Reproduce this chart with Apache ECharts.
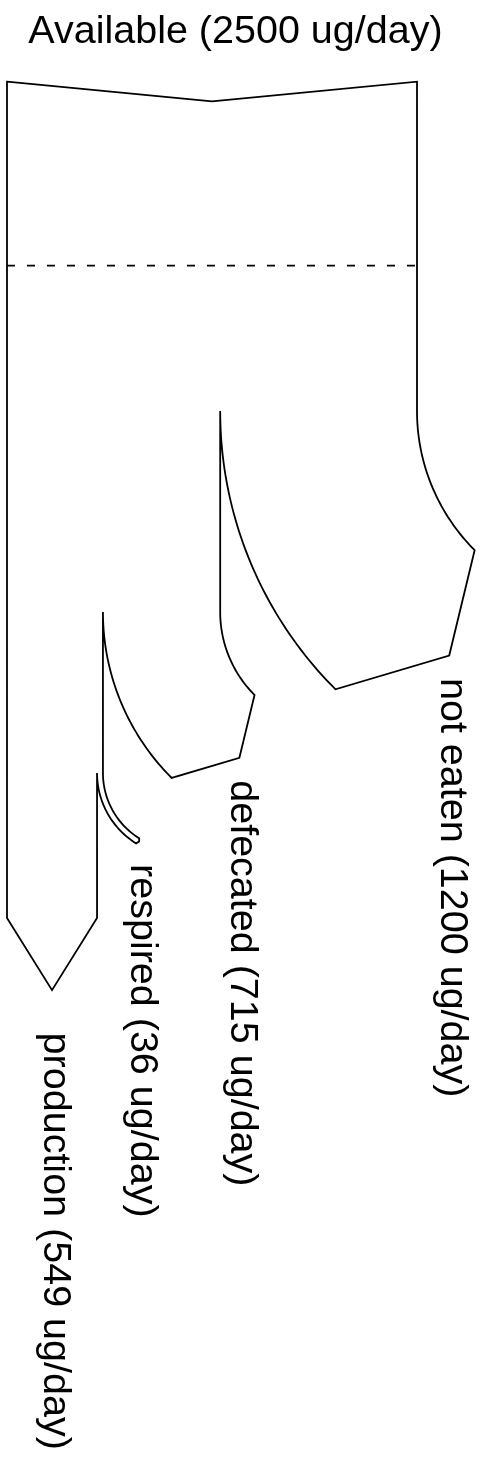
<!DOCTYPE html>
<html><head><meta charset="utf-8">
<script src="https://cdn.jsdelivr.net/npm/echarts@6/dist/echarts.min.js"></script>
<style>html,body{margin:0;padding:0;background:#fff}#c{width:480px;height:1462px}</style>
</head><body><div id="c"></div>
<script>
// ---- data ----
const categories = ['Available', 'not eaten', 'defecated', 'respired', 'production'];
const flows = [2500, -1200, -715, -36, -549];
const unitLabel = 'ug/day';

// ---- layout (diagram units = flow units on both axes) ----
const inputNotch = 120;
const dashY = 1122;
const branchSplit = [2008, 3234, 4215];   // where side outputs leave (right to left)
const branchRadius = [1200, 715, 470];    // inner turn radius
const branchAngle = [45, 45, 58];         // turn angle, degrees
const tipSkew = 6;                        // degrees
const sideHeadRatio = Math.tan(Math.PI / 6);
const straightShoulder = 5100;
const straightHeadRatio = 1.6;
const titlePos = [1393, -304];
const sideLabelOffset = [15, 137];
const straightLabelOffset = [18, 259];
const FONT = '"Liberation Sans", Arial, Helvetica, sans-serif';
const FS = 39.5;

function lbl(name, v) { return name + ' (' + v + ' ' + unitLabel + ')'; }

function renderItem(params, api) {
  const C = p => api.coord(p);
  const total = flows[0];
  const pts = [[0, 0], [total / 2, inputNotch], [total, 0]];
  let xR = total;
  const labels = [];
  for (let i = 1; i < categories.length - 1; i++) {
    const w = -flows[i];
    const j = i - 1;
    const th = branchAngle[j] * Math.PI / 180, r = branchRadius[j], cy = branchSplit[j], cx = xR + r;
    pts.push([xR, cy]);
    const N = 48;
    for (let k = 1; k <= N; k++) { const t = th * k / N; pts.push([cx - r * Math.cos(t), cy + r * Math.sin(t)]); }
    const I = pts[pts.length - 1];
    const R2 = r + w;
    const O = [cx - R2 * Math.cos(th), cy + R2 * Math.sin(th)];
    const M = [(I[0] + O[0]) / 2, (I[1] + O[1]) / 2];
    const ta = th + tipSkew * Math.PI / 180;
    const hl = w / 2 * sideHeadRatio;
    const T = [M[0] + Math.sin(ta) * hl, M[1] + Math.cos(ta) * hl];
    pts.push(T);
    for (let k = N; k >= 0; k--) { const t = th * k / N; pts.push([cx - R2 * Math.cos(t), cy + R2 * Math.sin(t)]); }
    labels.push({ text: lbl(categories[i], w), at: [T[0] + sideLabelOffset[0], T[1] + sideLabelOffset[1]] });
    xR -= w;
  }
  const wP = -flows[categories.length - 1];
  pts.push([xR, straightShoulder]);
  const Tp = [xR - wP / 2, straightShoulder + wP / 2 * straightHeadRatio];
  pts.push(Tp);
  pts.push([xR - wP, straightShoulder]);
  labels.push({ text: lbl(categories[categories.length - 1], wP), at: [Tp[0] + straightLabelOffset[0], Tp[1] + straightLabelOffset[1]] });

  const children = [];
  children.push({
    type: 'polygon',
    shape: { points: pts.map(C) },
    style: { fill: '#fff', stroke: '#000', lineWidth: 1.8, lineJoin: 'miter' }
  });
  const d1 = C([0, dashY]), d2 = C([total, dashY]);
  children.push({
    type: 'line',
    shape: { x1: d1[0], y1: d1[1], x2: d2[0], y2: d2[1] },
    style: { stroke: '#000', lineWidth: 1.8, lineDash: [8, 12] }
  });
  const tp = C(titlePos);
  children.push({
    type: 'text', x: tp[0], y: tp[1],
    style: { text: lbl(categories[0], total), fill: '#000', fontSize: FS, fontFamily: FONT, align: 'center', verticalAlign: 'middle' }
  });
  labels.forEach(l => {
    const p = C(l.at);
    children.push({
      type: 'text', x: p[0], y: p[1], rotation: -Math.PI / 2,
      style: { text: l.text, fill: '#000', fontSize: FS, fontFamily: FONT, align: 'left', verticalAlign: 'middle' }
    });
  });
  return { type: 'group', children };
}

const chart = echarts.init(document.getElementById('c'), null, { renderer: 'canvas' });
chart.setOption({
  animation: false,
  backgroundColor: '#fff',
  grid: { left: 7, top: 81.7, width: 410, height: 1312 },
  xAxis: { type: 'value', min: 0, max: 2500, show: false },
  yAxis: { type: 'value', min: 0, max: 8000, inverse: true, show: false },
  series: [{ type: 'custom', coordinateSystem: 'cartesian2d', clip: false, silent: true, data: [[0, 0]], renderItem }]
});
</script></body></html>
